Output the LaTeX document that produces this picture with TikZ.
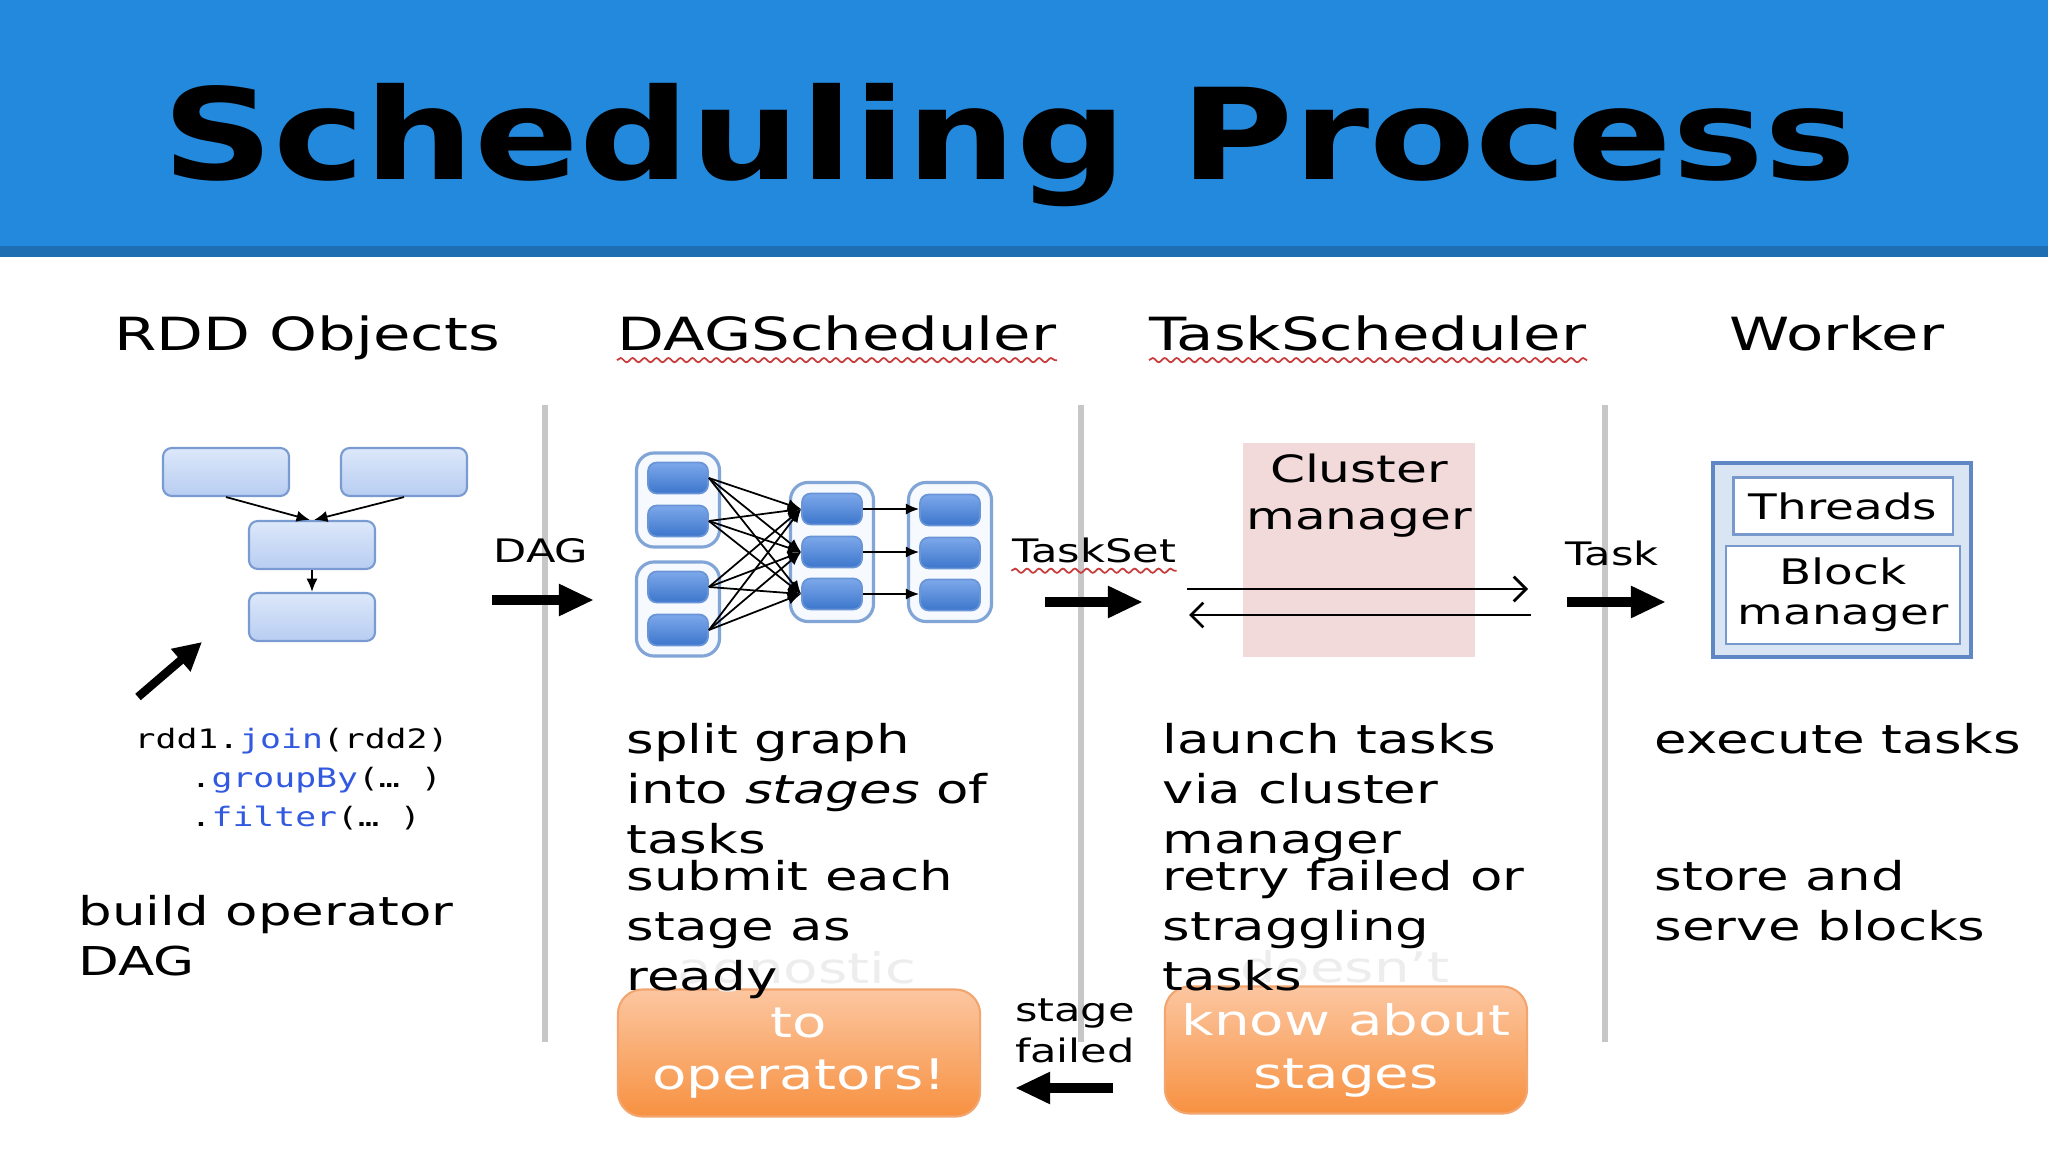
\documentclass[tikz,border=0pt]{standalone}
\usepackage{fontspec}
\setmainfont{DejaVu Sans}[FakeStretch=1.333]
\newfontfamily\titlefont{DejaVu Sans}[FakeStretch=1.22]
\newfontfamily\codefont{DejaVu Sans Mono}[FakeStretch=1.3]
\usetikzlibrary{arrows.meta,decorations.pathmorphing}
\definecolor{barblue}{RGB}{35,137,220}
\definecolor{bardark}{RGB}{30,110,180}
\definecolor{rddtop}{RGB}{221,232,250}
\definecolor{rddbot}{RGB}{183,205,241}
\definecolor{rddedge}{RGB}{122,155,210}
\definecolor{dagtop}{RGB}{125,168,234}
\definecolor{dagbot}{RGB}{60,118,204}
\definecolor{dagedge}{RGB}{105,148,214}
\definecolor{grpfill}{RGB}{246,249,254}
\definecolor{grpedge}{RGB}{130,165,215}
\definecolor{cmpink}{RGB}{242,218,219}
\definecolor{wkfill}{RGB}{218,229,243}
\definecolor{wkedge}{RGB}{95,135,195}
\definecolor{orgtop}{RGB}{252,198,160}
\definecolor{orgbot}{RGB}{247,145,65}
\definecolor{orgedge}{RGB}{242,165,110}
\definecolor{codeblue}{RGB}{50,90,225}
\definecolor{squig}{RGB}{200,60,60}

\begin{document}
\begin{tikzpicture}[x=0.01cm, y=-0.01cm,
	headtxt/.style={anchor=base, inner sep=0pt, font=\fontsize{13}{15}\selectfont},
	bodytxt/.style={anchor=base west, inner sep=0pt, align=left, font=\fontsize{11.3}{14.2}\selectfont},
	labeltxt/.style={anchor=base, inner sep=0pt, align=center, font=\fontsize{9.2}{11.4}\selectfont},
	codetxt/.style={anchor=base west, inner sep=0pt, font=\codefont\fontsize{7.6}{9}\selectfont},
	rddbox/.style={draw=rddedge, line width=0.6pt, rounded corners=2.5pt, top color=rddtop, bottom color=rddbot, minimum width=1.26cm, minimum height=0.48cm},
	dagbox/.style={draw=dagedge, line width=0.5pt, rounded corners=2.5pt, top color=dagtop, bottom color=dagbot, minimum width=0.6cm, minimum height=0.31cm},
	grpbox/.style={draw=grpedge, fill=grpfill, line width=0.9pt, rounded corners=5pt, minimum width=0.83cm},
	orgbox/.style={draw=orgedge, line width=0.6pt, rounded corners=7pt, top color=orgtop, bottom color=orgbot, minimum width=3.62cm, minimum height=1.27cm, text=white, align=center, font=\fontsize{12}{15}\selectfont},
	sepline/.style={line width=1.6pt, color=black!22},
	bigarrow/.style={line width=2.8pt, -{Triangle[length=10pt, width=8.5pt]}},
	fanarrow/.style={line width=0.5pt, -{Latex[length=3.8pt, width=3.2pt]}},
	thinarrow/.style={line width=0.8pt, -{Straight Barb[length=3.5pt, width=7pt]}},
	squiggle/.style={squig, line width=0.5pt, decorate, decoration={snake, amplitude=0.6pt, segment length=3.4pt}}]
	
	\useasboundingbox (0,0) rectangle (2048,1152);
	\fill[white] (0,0) rectangle (2048,1152);
	
	%%%%% START %%%%%
	
	\fill[barblue] (0,0) rectangle (2048,246);
	\fill[bardark] (0,246) rectangle (2048,257);
	\node[anchor=base, inner sep=0pt, font=\titlefont\bfseries\fontsize{36}{40}\selectfont] (title) at (1009,180) {Scheduling Process};
	
	\node[headtxt] (hrdd) at (307,351) {RDD Objects};
	\node[headtxt] (hdag) at (837,351) {DAGScheduler};
	\node[headtxt] (htask) at (1368,351) {TaskScheduler};
	\node[headtxt] (hwork) at (1837,351) {Worker};
	\draw[squiggle] ([yshift=-2.6pt]hdag.base west) -- ([yshift=-2.6pt]hdag.base east);
	\draw[squiggle] ([yshift=-2.6pt]htask.base west) -- ([yshift=-2.6pt]htask.base east);
	
	\draw[sepline] (545,405) -- (545,1042);
	\draw[sepline] (1081,405) -- (1081,1042);
	\draw[sepline] (1605,405) -- (1605,1042);
	
	% rdd objects
	\node[rddbox] (r1) at (226,472) {};
	\node[rddbox] (r2) at (404,472) {};
	\node[rddbox] (r3) at (312,545) {};
	\node[rddbox] (r4) at (312,617) {};
	\draw[fanarrow] (r1.south) -- ([xshift=-0.6pt]r3.north);
	\draw[fanarrow] (r2.south) -- ([xshift=0.6pt]r3.north);
	\draw[fanarrow] (r3.south) -- (r4.north);
	
	\coordinate (ptrtail) at (138,697);
	\coordinate (ptrhead) at (202,642);
	\draw[line width=2.4pt, -{Triangle[length=8pt, width=8pt]}] (ptrtail) -- (ptrhead);
	
	\node[codetxt] (code1) at (134,748) {rdd1.\textcolor{codeblue}{join}(rdd2)};
	\node[codetxt] (code2) at (190,787) {.\textcolor{codeblue}{groupBy}(… )};
	\node[codetxt] (code3) at (190,826) {.\textcolor{codeblue}{filter}(… )};
	
	\node[bodytxt] (build) at (78,975) {build operator\\DAG};
	
	% dag scheduler
	\node[grpbox, minimum height=0.94cm] (ga) at (678,500) {};
	\node[grpbox, minimum height=0.94cm] (gb) at (678,609) {};
	\node[grpbox, minimum height=1.39cm] (gc) at (832,552) {};
	\node[grpbox, minimum height=1.39cm] (gd) at (950,552) {};
	\node[dagbox] (a1) at (678,478) {};
	\node[dagbox] (a2) at (678,521) {};
	\node[dagbox] (b1) at (678,587) {};
	\node[dagbox] (b2) at (678,630) {};
	\node[dagbox] (c1) at (832,509) {};
	\node[dagbox] (c2) at (832,552) {};
	\node[dagbox] (c3) at (832,594) {};
	\node[dagbox] (d1) at (950,510) {};
	\node[dagbox] (d2) at (950,553) {};
	\node[dagbox] (d3) at (950,595) {};
	\foreach \s in {a1,a2,b1,b2}
		\foreach \t in {c1,c2,c3}
			\draw[fanarrow] (\s.east) -- (\t.west);
	\draw[fanarrow] (c1.east) -- (d1.west |- c1.east);
	\draw[fanarrow] (c2.east) -- (d2.west |- c2.east);
	\draw[fanarrow] (c3.east) -- (d3.west |- c3.east);
	
	\node[labeltxt] (dagl) at (541,563) {DAG};
	\coordinate (dagtail) at (492,600);
	\coordinate (daghead) at (594,600);
	\draw[bigarrow] (dagtail) -- (daghead);
	
	\node[bodytxt] (split) at (626,853) {split graph\\into \textit{stages} of\\tasks};
	
	% task scheduler
	\node[fill=cmpink, minimum width=2.32cm, minimum height=2.14cm] (cm) at (1359,550) {};
	\node[anchor=base, inner sep=0pt, align=center, font=\fontsize{10.7}{13.4}\selectfont] (cmtext) at (1359,530) {Cluster\\manager};
	\coordinate (cmtl) at (1187,589);
	\coordinate (cmtr) at (1528,589);
	\coordinate (cmbl) at (1189,615);
	\coordinate (cmbr) at (1531,615);
	\draw[thinarrow] (cmtl) -- (cmtr);
	\draw[thinarrow] (cmbr) -- (cmbl);
	
	\node[labeltxt] (tsl) at (1094,563) {TaskSet};
	\draw[squiggle] ([yshift=-2.2pt]tsl.base west) -- ([yshift=-2.2pt]tsl.base east);
	\coordinate (tstail) at (1045,602);
	\coordinate (tshead) at (1143,602);
	\draw[bigarrow] (tstail) -- (tshead);
	
	\node[bodytxt] (launch) at (1162,853) {launch tasks\\via cluster\\manager};
	
	% worker
	\node[draw=wkedge, fill=wkfill, line width=1pt, minimum width=2.58cm, minimum height=1.94cm] (wk) at (1842,560) {};
	\node[draw=wkedge!85, fill=white, line width=0.6pt, minimum width=2.19cm, minimum height=0.57cm, font=\fontsize{10}{11.4}\selectfont] (thr) at (1843,506) {Threads};
	\node[draw=wkedge!85, fill=white, line width=0.6pt, minimum width=2.19cm, minimum height=0.94cm, align=center, font=\fontsize{10}{11.4}\selectfont] (blk) at (1843,595) {Block\\manager};
	
	\node[labeltxt] (taskl) at (1612,565) {Task};
	\coordinate (tktail) at (1567,602);
	\coordinate (tkhead) at (1666,602);
	\draw[bigarrow] (tktail) -- (tkhead);
	
	\node[bodytxt] (exec) at (1654,753) {execute tasks};
	\node[bodytxt] (store) at (1654,940) {store and\\serve blocks};
	
	% bottom row
	\node[orgbox] (agn) at (799,1053) {to\\operators!};
	\node[orgbox] (dsn) at (1346,1050) {know about\\stages};
	\node[anchor=base, inner sep=0pt, text=black!7, font=\fontsize{12}{15}\selectfont] (agnt) at (797,983) {agnostic};
	\node[anchor=base, inner sep=0pt, text=black!7, font=\fontsize{12}{15}\selectfont] (dsnt) at (1345,982) {doesn't};
	
	\node[bodytxt] (submit) at (626,990) {submit each\\stage as\\ready};
	\node[bodytxt] (retry) at (1162,990) {retry failed or\\straggling\\tasks};
	
	\node[labeltxt] (sfl) at (1075,1062) {stage\\failed};
	\coordinate (sftail) at (1113,1088);
	\coordinate (sfhead) at (1015,1088);
	\draw[bigarrow] (sftail) -- (sfhead);
	
	%%%%% END %%%%%
\end{tikzpicture}
\end{document}
